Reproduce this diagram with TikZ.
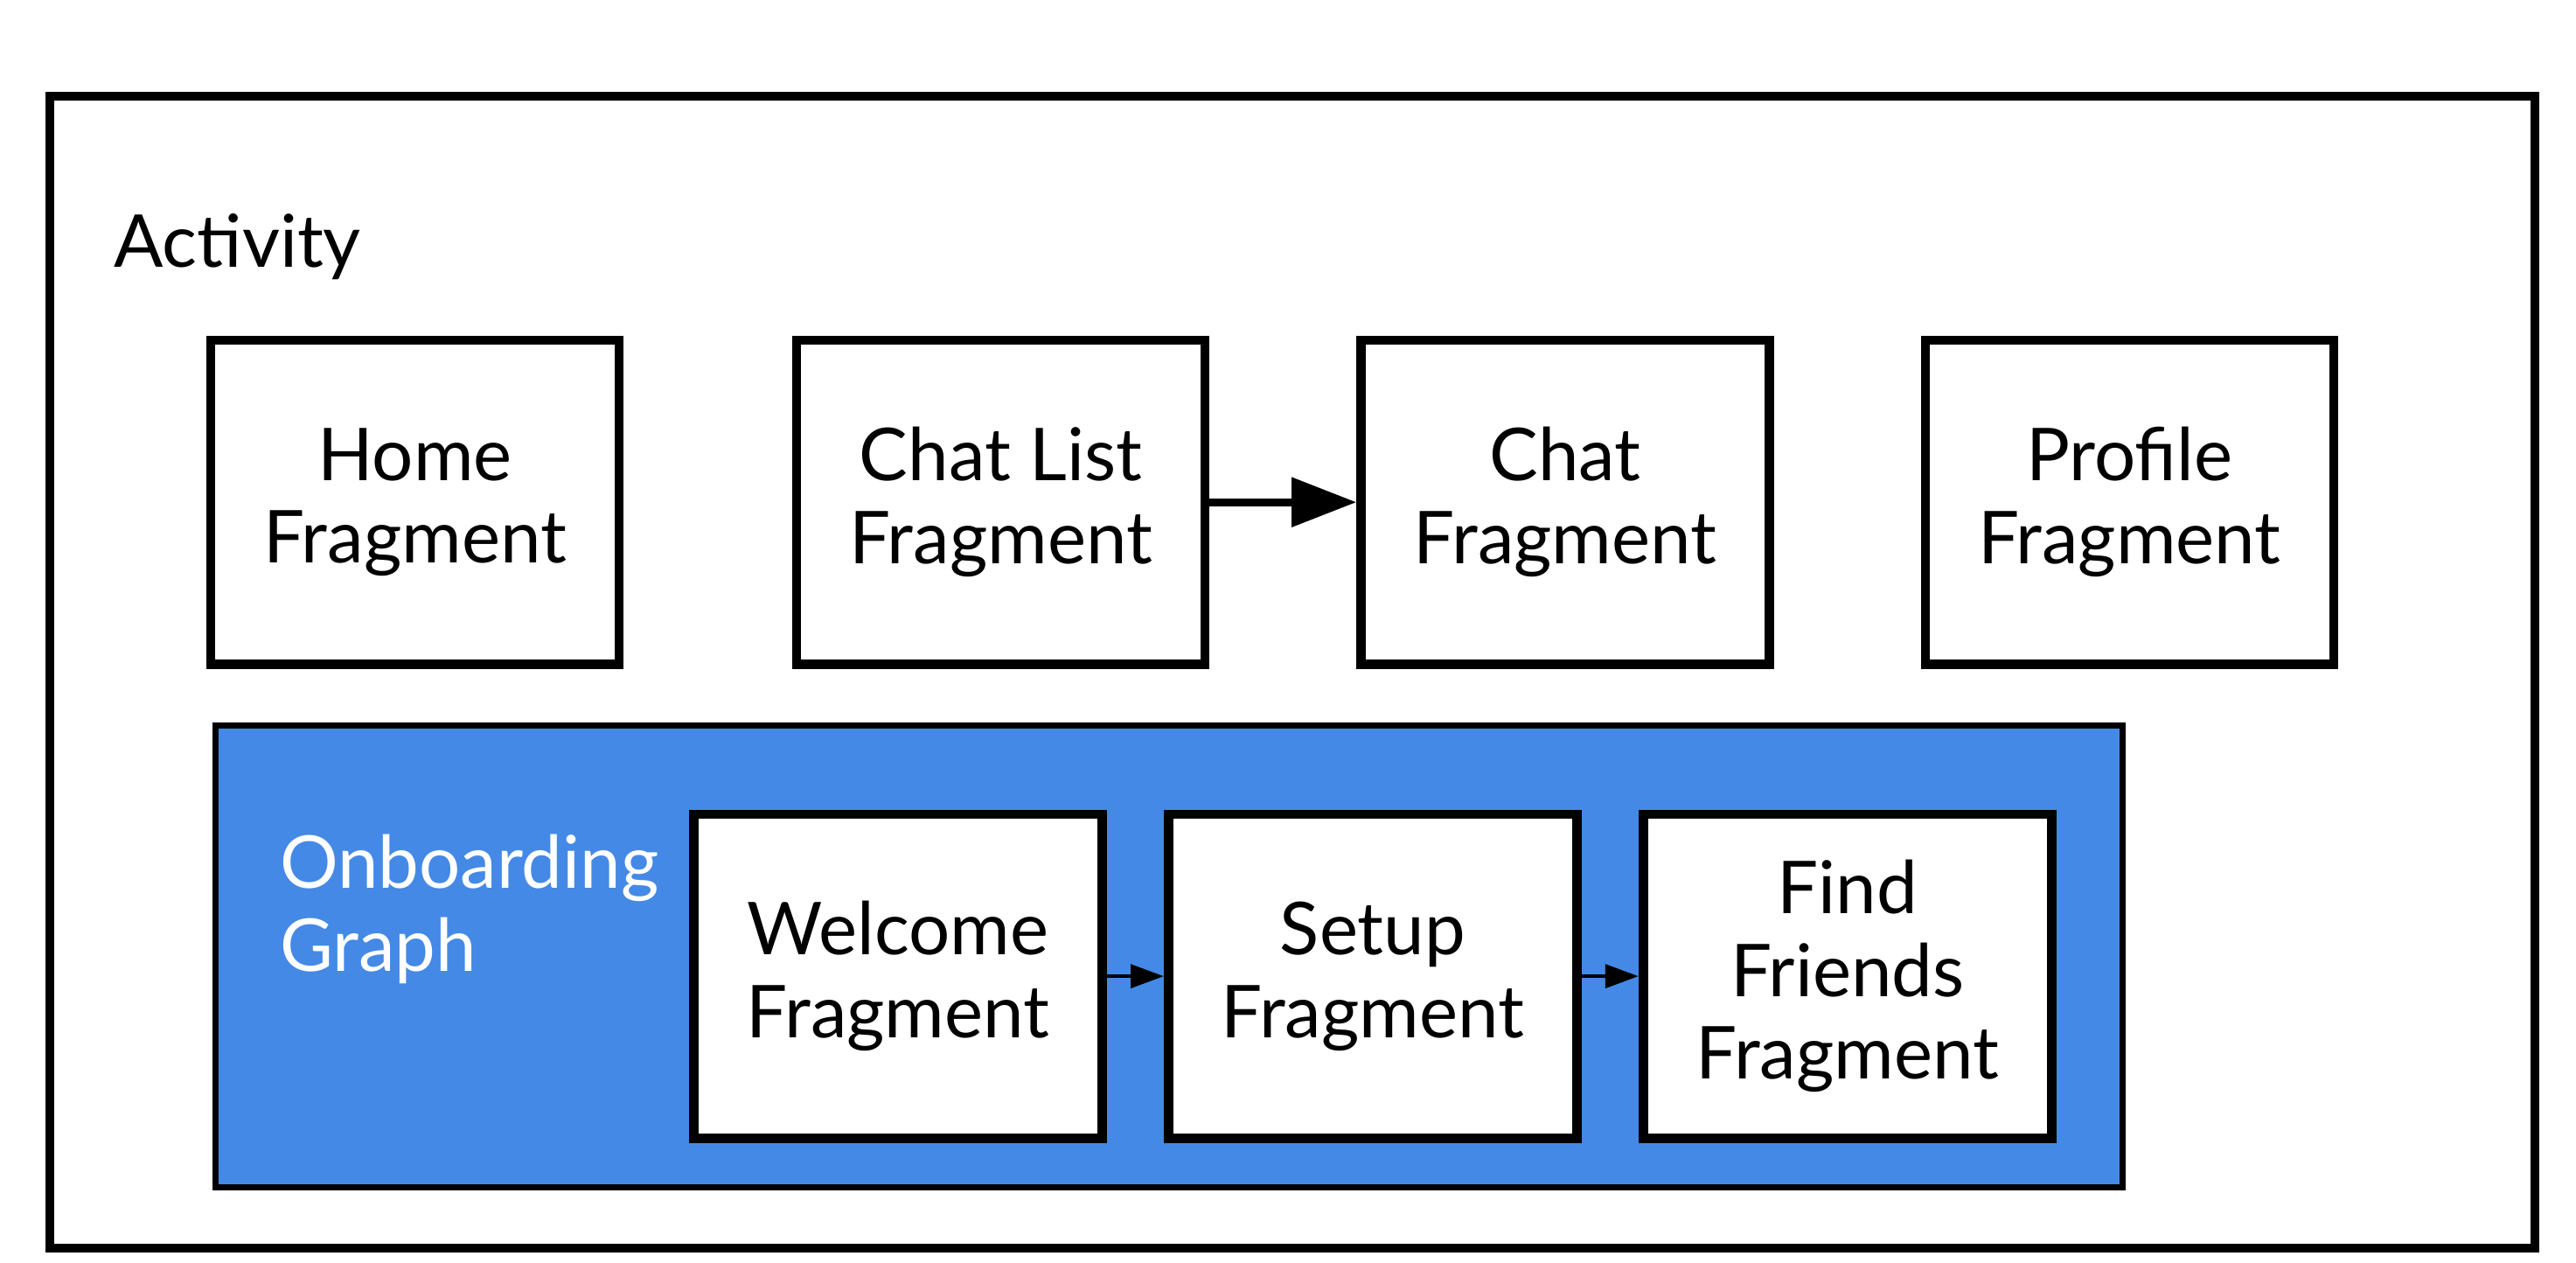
\documentclass[tikz,border=0pt]{standalone}
\usepackage{fontspec}
\setmainfont{Lato}
\usetikzlibrary{arrows.meta,positioning}
\definecolor{onbblue}{RGB}{69,137,230}

\begin{document}
\begin{tikzpicture}[
    every node/.style={font=\fontsize{12.5}{14.2}\selectfont},
    frag/.style={draw,line width=1.6pt,fill=white,minimum width=2.46cm,minimum height=1.95cm,align=center,inner sep=0pt},
    bigarrow/.style={-{Triangle[length=3.9mm,width=2.9mm]},line width=1.3pt},
    smallarrow/.style={-{Triangle[length=2mm,width=1.4mm]},line width=.7pt}
  ]
      %\draw[step=.5cm,gray,very thin] (0,0) grid (15.5,7.6);
      \useasboundingbox (0,0) rectangle (15.52,7.607);
      \draw[line width=1.5pt] (.30,.087) rectangle (15.27,7.027);
      \node[right,inner sep=0pt] (activity) at (.68,6.12) {Activity};
      % top row
      \node[frag] (home) at (2.50,4.582) {Home\\Fragment};
      \node[frag] (chatlist) at (6.03,4.582) {Chat List\\Fragment};
      \node[frag] (chat) at (9.43,4.582) {Chat\\Fragment};
      \node[frag] (profile) at (12.83,4.582) {Profile\\Fragment};
      \draw[bigarrow] (chatlist) -- (chat);
      % nested graph
      \draw[fill=onbblue,line width=1pt] (1.30,.457) rectangle (12.79,3.237);
      \node[right,inner sep=0pt,align=left,white] (onboarding) at (1.68,2.13) {Onboarding\\Graph};
      \node[frag] (welcome) at (5.41,1.727) {Welcome\\Fragment};
      \node[frag] (setup) at (8.27,1.727) {Setup\\Fragment};
      \node[frag] (findfriends) at (11.13,1.727) {Find\\Friends\\Fragment};
      \draw[smallarrow] (welcome) -- (setup);
      \draw[smallarrow] (setup) -- (findfriends);
\end{tikzpicture}
\end{document}
